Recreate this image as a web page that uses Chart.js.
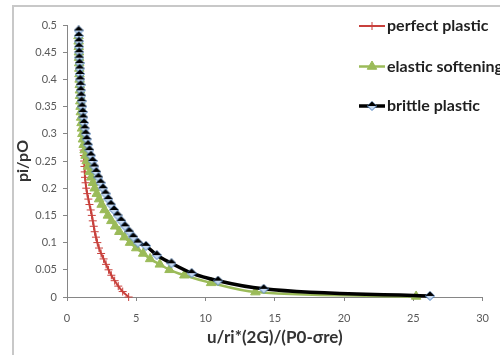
<!DOCTYPE html>
<html><head><meta charset="utf-8">
<script src="https://cdn.jsdelivr.net/npm/chart.js@4/dist/chart.umd.min.js"></script>
<style>html,body{margin:0;padding:0;background:#fff}#wrap{width:500px;height:355px}</style>
</head><body><div id="wrap"><canvas id="c" width="500" height="355"></canvas></div>
<script>
const seriesNames = ['perfect plastic', 'elastic softening', 'brittle plastic'];
const xTitle = 'u/ri*(2G)/(P0-σre)';
const yTitle = 'pi/pO';
const xTicks = [0, 5, 10, 15, 20, 25, 30];
const yTicks = [0, 0.05, 0.1, 0.15, 0.2, 0.25, 0.3, 0.35, 0.4, 0.45, 0.5];

// perfect plastic
const perfectU = [1.20,1.22,1.24,1.26,1.28,1.30,1.34,1.39,1.46,1.54,1.62,1.71,1.79,1.86,1.93,2.00,2.09,2.19,2.31,2.46,2.64,2.82,3.00,3.20,3.44,3.70,4.02,4.45];
const perfectP = [0.27,0.26,0.25,0.24,0.23,0.22,0.21,0.20,0.19,0.18,0.17,0.16,0.15,0.14,0.13,0.12,0.11,0.10,0.09,0.08,0.07,0.06,0.05,0.04,0.03,0.02,0.01,0.00];

// elastic softening
const elasticU = [0.83,0.84,0.85,0.86,0.87,0.88,0.89,0.90,0.91,0.92,0.93,0.94,0.96,0.98,1.00,1.02,1.05,1.08,1.11,1.15,1.20,1.27,1.34,1.42,1.52,1.63,1.75,1.87,2.00,2.15,2.32,2.50,2.71,2.95,3.20,3.48,3.78,4.15,4.55,5.00,5.50,6.00,6.70,7.40,8.47,10.4,13.6,25.2];
const elasticP = [0.48,0.47,0.46,0.45,0.44,0.43,0.42,0.41,0.40,0.39,0.38,0.37,0.36,0.35,0.34,0.33,0.32,0.31,0.30,0.29,0.28,0.27,0.26,0.25,0.24,0.23,0.22,0.21,0.20,0.19,0.18,0.17,0.16,0.15,0.14,0.13,0.12,0.11,0.10,0.09,0.08,0.07,0.06,0.05,0.04,0.026,0.009,0.001];

// brittle plastic
const brittleU = [0.84,0.85,0.86,0.87,0.88,0.89,0.91,0.92,0.94,0.96,0.98,1.00,1.03,1.06,1.10,1.14,1.18,1.23,1.29,1.35,1.43,1.52,1.62,1.73,1.85,1.98,2.12,2.27,2.43,2.60,2.78,2.98,3.18,3.40,3.65,3.92,4.20,4.50,4.80,5.12,5.70,6.48,7.54,9.00,10.9,14.2,26.2];
const brittleP = [0.49,0.48,0.47,0.46,0.45,0.44,0.43,0.42,0.41,0.40,0.39,0.38,0.37,0.36,0.35,0.34,0.33,0.32,0.31,0.30,0.29,0.28,0.27,0.26,0.25,0.24,0.23,0.22,0.21,0.20,0.19,0.18,0.17,0.16,0.15,0.14,0.13,0.12,0.11,0.10,0.094,0.077,0.062,0.044,0.030,0.015,0.002];

function pts(u, p) { return u.map((v, i) => ({x: v, y: p[i]})); }

// brittle marker: diamond, upper half black, lower half light blue
const dm = document.createElement('canvas');
dm.width = 10; dm.height = 10;
(function(){
  const g = dm.getContext('2d');
  g.beginPath(); g.moveTo(5,0.5); g.lineTo(9.5,5); g.lineTo(5,9.5); g.lineTo(0.5,5); g.closePath();
  g.fillStyle = '#c6d9f1'; g.fill();
  g.strokeStyle = '#4f81bd'; g.lineWidth = 1; g.stroke();
  g.beginPath(); g.moveTo(5,0.5); g.lineTo(9.5,5); g.lineTo(0.5,5); g.closePath();
  g.fillStyle = '#000'; g.fill();
})();

const FONT = "Lato, 'Open Sans', sans-serif";

const deco = {
  id: 'deco',
  beforeDraw(chart) {
    const ctx = chart.ctx;
    ctx.save();
    ctx.strokeStyle = '#c8c8c8'; ctx.lineWidth = 2;
    ctx.strokeRect(13, 6, 520, 380);
    ctx.restore();
  },
  afterDraw(chart) {
    const ctx = chart.ctx;
    const ys = [26, 66.5, 106];
    ctx.save();
    chart.data.datasets.forEach((ds, i) => {
      const y = ys[i];
      ctx.strokeStyle = ds.borderColor; ctx.lineWidth = ds.borderWidth;
      ctx.beginPath(); ctx.moveTo(359, y); ctx.lineTo(385, y); ctx.stroke();
      ctx.fillStyle = ds.pointBackgroundColor; ctx.strokeStyle = ds.pointBorderColor;
      ctx.lineWidth = ds.pointBorderWidth;
      Chart.helpers.drawPoint(ctx, {pointStyle: ds.pointStyle, radius: ds.pointRadius, rotation: ds.pointRotation || 0, borderWidth: ds.pointBorderWidth}, 372, y);
      ctx.fillStyle = '#1f1f1f';
      ctx.font = "bold 16px " + FONT;
      ctx.textBaseline = 'middle'; ctx.textAlign = 'left';
      ctx.fillText(ds.label, 387, y);
    });
    ctx.restore();
  }
};

new Chart(document.getElementById('c'), {
  type: 'scatter',
  data: {
    datasets: [
      { label: seriesNames[0], data: pts(perfectU, perfectP), showLine: true, borderColor: '#c8403c', borderWidth: 2,
        pointStyle: 'cross', pointRadius: 4, pointBorderWidth: 1, pointBorderColor: '#c8403c', pointBackgroundColor: '#c8403c', order: 2 },
      { label: seriesNames[1], data: pts(elasticU, elasticP), showLine: true, borderColor: '#9bbb59', borderWidth: 2.5,
        pointStyle: 'triangle', pointRadius: 5.5, pointBorderWidth: 1, pointBorderColor: '#9bbb59', pointBackgroundColor: '#9bbb59', order: 1 },
      { label: seriesNames[2], data: pts(brittleU, brittleP), showLine: true, borderColor: '#000000', borderWidth: 3.5,
        pointStyle: dm, pointRadius: 5, pointBorderWidth: 1, pointBorderColor: '#4f81bd', pointBackgroundColor: '#c6d9f1', order: 0 }
    ]
  },
  options: {
    responsive: false, animation: false, devicePixelRatio: 1,
    clip: false,
    elements: { line: { cubicInterpolationMode: 'monotone', tension: 0.4 } },
    layout: { padding: { left: 12, top: 25, right: 8, bottom: 0 } },
    plugins: { legend: { display: false }, tooltip: { enabled: false } },
    scales: {
      x: {
        type: 'linear', min: 0, max: 30,
        afterBuildTicks(s) { s.ticks = xTicks.map(v => ({value: v})); },
        afterFit(s) { s.height = 58; },
        ticks: { color: '#595959', font: { family: FONT, size: 11 }, padding: 11 },
        grid: { display: true, drawOnChartArea: false, drawTicks: true, tickLength: 4, color: '#868686' },
        border: { display: true, color: '#868686', width: 1 },
        title: { display: true, text: xTitle, color: '#333333', font: { family: FONT, size: 17, weight: 'bold' }, padding: { top: 0, bottom: 7 } }
      },
      y: {
        type: 'linear', min: 0, max: 0.5,
        afterBuildTicks(s) { s.ticks = yTicks.map(v => ({value: v})); },
        afterFit(s) { s.width = 55; },
        ticks: { color: '#595959', font: { family: FONT, size: 11 }, padding: 6,
          callback: v => String(Math.round(v * 100) / 100) },
        grid: { display: true, drawOnChartArea: false, drawTicks: true, tickLength: 4, color: '#868686' },
        border: { display: true, color: '#868686', width: 1 },
        title: { display: true, text: yTitle, color: '#333333', font: { family: FONT, size: 16, weight: 'bold' }, padding: { top: 1, bottom: 0 } }
      }
    }
  },
  plugins: [deco]
});
</script>
</body></html>
